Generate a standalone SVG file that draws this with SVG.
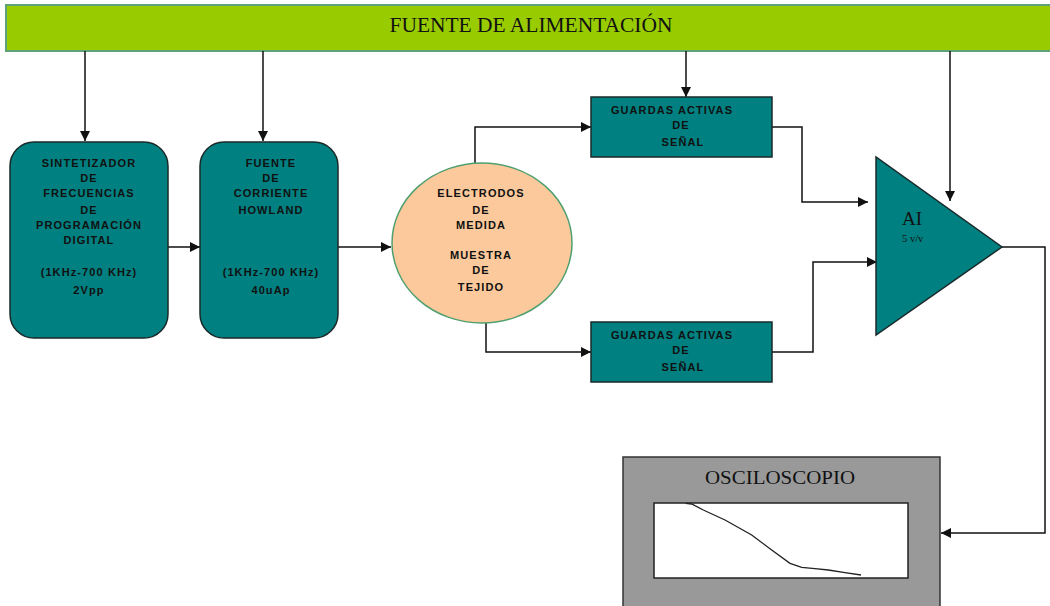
<svg xmlns="http://www.w3.org/2000/svg" width="1050" height="606" viewBox="0 0 1050 606">
<defs>
<marker id="ah" viewBox="0 0 10 10" refX="10" refY="5" markerWidth="10" markerHeight="10" markerUnits="userSpaceOnUse" orient="auto">
<path d="M0,0 L10,5 L0,10 z" fill="#111"/>
</marker>
<style>
.bx{fill:#008080;stroke:#1a2a2a;stroke-width:1.5}
.t{font-family:"Liberation Sans",Arial,sans-serif;font-size:11px;font-weight:bold;letter-spacing:1.1px;fill:#111;text-anchor:middle}
.s{font-family:"Liberation Serif","Times New Roman",serif;fill:#111}
.c{fill:none;stroke:#111;stroke-width:1.5}
.ca{fill:none;stroke:#111;stroke-width:1.5;marker-end:url(#ah)}
</style>
</defs>
<rect width="1050" height="606" fill="#fff"/>
<g id="fuente-alimentacion">
<rect x="6" y="5" width="1050" height="46" fill="#99cc00" stroke="#5fa27a" stroke-width="2"/>
<text class="s" x="531" y="32" font-size="20" text-anchor="middle" textLength="283" lengthAdjust="spacingAndGlyphs">FUENTE DE ALIMENTACIÓN</text>
</g>
<g id="connectors">
<line class="ca" x1="85" y1="51" x2="85" y2="141"/>
<line class="ca" x1="263" y1="51" x2="263" y2="141"/>
<line class="ca" x1="686" y1="51" x2="686" y2="97"/>
<line class="ca" x1="950" y1="51" x2="950" y2="201"/>
<line class="ca" x1="168" y1="247" x2="200" y2="247"/>
<line class="ca" x1="338" y1="247" x2="391" y2="247"/>
<polyline class="ca" points="475,165 475,127 591,127"/>
<polyline class="ca" points="486,322 486,352 591,352"/>
<polyline class="ca" points="772,127 802,127 802,202 868,202"/>
<polyline class="ca" points="772,352 813,352 813,262 877,262"/>
<polyline class="ca" points="1002,247 1045,247 1045,533 941,533"/>
</g>
<g id="sintetizador">
<rect class="bx" x="10" y="142" width="158" height="196" rx="24" ry="24"/>
<text class="t" x="89" y="167">SINTETIZADOR</text>
<text class="t" x="89" y="182">DE</text>
<text class="t" x="89" y="197">FRECUENCIAS</text>
<text class="t" x="89" y="214">DE</text>
<text class="t" x="89" y="229">PROGRAMACIÓN</text>
<text class="t" x="89" y="244">DIGITAL</text>
<text class="t" x="89" y="276">(1KHz-700 KHz)</text>
<text class="t" x="89" y="294">2Vpp</text>
</g>
<g id="fuente-corriente">
<rect class="bx" x="200" y="142" width="138" height="196" rx="24" ry="24"/>
<text class="t" x="271" y="167">FUENTE</text>
<text class="t" x="271" y="182">DE</text>
<text class="t" x="271" y="197">CORRIENTE</text>
<text class="t" x="271" y="214">HOWLAND</text>
<text class="t" x="271" y="276">(1KHz-700 KHz)</text>
<text class="t" x="271" y="294">40uAp</text>
</g>
<g id="electrodos">
<ellipse cx="482" cy="243" rx="90" ry="80" fill="#fbc99b" stroke="#4fa070" stroke-width="1.5"/>
<text class="t" x="481" y="197">ELECTRODOS</text>
<text class="t" x="481" y="214">DE</text>
<text class="t" x="481" y="229">MEDIDA</text>
<text class="t" x="481" y="259">MUESTRA</text>
<text class="t" x="481" y="274">DE</text>
<text class="t" x="481" y="291">TEJIDO</text>
</g>
<g id="guardas-1">
<rect class="bx" x="591" y="97" width="181" height="60"/>
<text class="t" x="672" y="114">GUARDAS ACTIVAS</text>
<text class="t" x="681" y="129">DE</text>
<text class="t" x="683" y="146">SEÑAL</text>
</g>
<g id="guardas-2">
<rect class="bx" x="591" y="322" width="181" height="60"/>
<text class="t" x="672" y="339">GUARDAS ACTIVAS</text>
<text class="t" x="681" y="354">DE</text>
<text class="t" x="683" y="371">SEÑAL</text>
</g>
<g id="amplificador">
<polygon points="876,157 876,335 1002,247" fill="#008080" stroke="#1a2a2a" stroke-width="1.5"/>
<text class="s" x="902" y="225" font-size="19">AI</text>
<text class="s" x="902" y="242" font-size="10.5">5 v/v</text>
</g>
<g id="osciloscopio">
<rect x="623" y="457" width="317" height="160" fill="#999" stroke="#333" stroke-width="1.5"/>
<text class="s" x="780" y="484" font-size="19" text-anchor="middle" textLength="150" lengthAdjust="spacingAndGlyphs">OSCILOSCOPIO</text>
<rect x="654" y="503" width="254" height="75" fill="#fff" stroke="#222" stroke-width="1.5"/>
<polyline points="685.7,503.3 691.7,504 703.3,510 725,520 751.7,535 771.7,550 790,563.3 801.7,567.3 815,568.7 828.3,570 845,572.7 861,575" fill="none" stroke="#222" stroke-width="1.3"/>
</g>
</svg>
